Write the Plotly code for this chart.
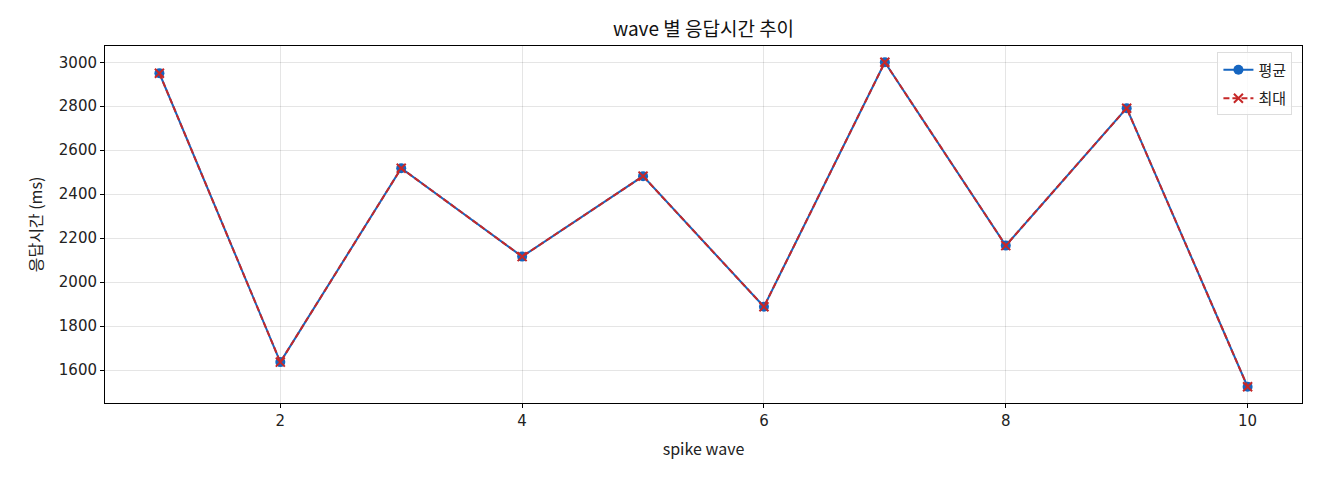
import plotly.graph_objects as go

# wave 별 평균 / 최대 응답시간 (ms)
waves = [1, 2, 3, 4, 5, 6, 7, 8, 9, 10]
avg_ms = [2950, 1636, 2518, 2116, 2482, 1888, 3000, 2166, 2791, 1524]
max_ms = [2950, 1636, 2518, 2116, 2482, 1888, 3000, 2166, 2791, 1524]

font_name = "Noto Sans CJK KR"

fig = go.Figure()
fig.add_trace(go.Scatter(
    x=waves, y=avg_ms, name="평균", mode="lines+markers", legendgroup="avg",
    line=dict(color="#1565C0", width=2),
    marker=dict(symbol="circle", size=10, color="#1565C0"),
))
fig.add_trace(go.Scatter(
    x=waves, y=max_ms, name="최대", mode="lines+markers", legendgroup="max",
    line=dict(color="#C62828", width=2, dash="6px,3px"),
    marker=dict(symbol="x-thin", size=9, color="#C62828",
                line=dict(color="#C62828", width=2)),
))

axis_style = dict(
    showline=True, linecolor="black", linewidth=1, mirror=True,
    ticks="outside", ticklen=4, tickcolor="black",
    showgrid=True, gridcolor="rgba(0,0,0,0.1)", gridwidth=1,
    zeroline=False, tickfont=dict(family="DejaVu Sans", size=15, color="#222"),
)

# page body has an 8px margin, so the figure is drawn 8px in from the corner
fig.update_layout(
    width=1312, height=472,
    margin=dict(l=97, r=18, t=38, b=77),
    paper_bgcolor="white", plot_bgcolor="white",
    font=dict(family=font_name, color="#222"),
    title=dict(text="wave 별 응답시간 추이", x=0.5, xref="paper", xanchor="center",
               y=0.955, yanchor="middle", font=dict(size=19, color="#111")),
    legend=dict(x=0.992, y=0.982, xanchor="right", yanchor="top",
                bgcolor="rgba(255,255,255,0.8)", bordercolor="#dddddd",
                borderwidth=1, font=dict(size=15), traceorder="grouped",
                tracegroupgap=6),
    showlegend=True,
)
fig.update_xaxes(axis_style, range=[0.55, 10.45], dtick=2, tick0=0,
                 title=dict(text="spike wave", font=dict(size=16), standoff=14))
fig.update_yaxes(axis_style, range=[1450, 3074], dtick=200,
                 title=dict(text="응답시간 (ms)", font=dict(size=16), standoff=12))

fig.write_html("out.html")
